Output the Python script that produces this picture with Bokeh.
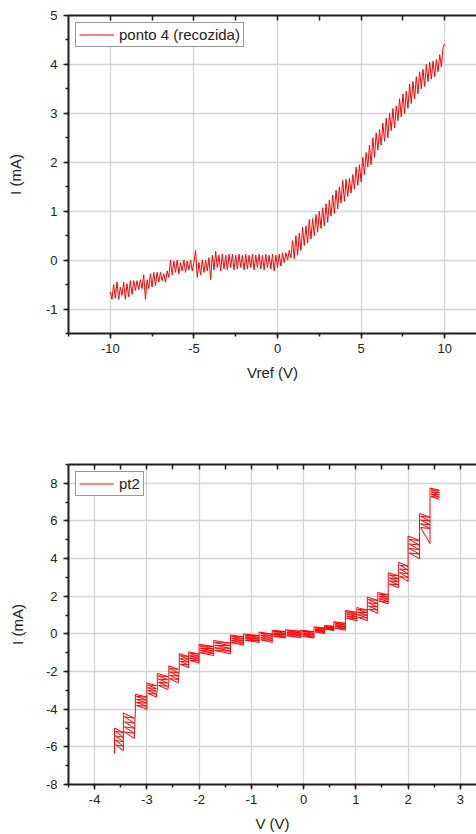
from bokeh.plotting import figure
from bokeh.layouts import column
from bokeh.models import (Range1d, LinearAxis, SingleIntervalTicker, FixedTicker,
                          Legend, LegendItem, Grid, CustomJSTickFormatter)
from bokeh.embed import file_html
from bokeh.resources import INLINE

# ---------------- data: top chart (ponto 4 (recozida)) ----------------
ponto4_v = [
    -10.0, -9.9, -9.8, -9.7, -9.6, -9.5, -9.4, -9.3, -9.2, -9.1,
    -9.0, -8.9, -8.8, -8.7, -8.6, -8.5, -8.4, -8.3, -8.2, -8.1,
    -8.0, -7.9, -7.8, -7.7, -7.6, -7.5, -7.4, -7.3, -7.2, -7.1,
    -7.0, -6.9, -6.8, -6.7, -6.6, -6.5, -6.4, -6.3, -6.2, -6.1,
    -6.0, -5.9, -5.8, -5.7, -5.6, -5.5, -5.4, -5.3, -5.2, -5.1,
    -5.0, -4.9, -4.8, -4.7, -4.6, -4.5, -4.4, -4.3, -4.2, -4.1,
    -4.0, -3.9, -3.8, -3.7, -3.6, -3.5, -3.4, -3.3, -3.2, -3.1,
    -3.0, -2.9, -2.8, -2.7, -2.6, -2.5, -2.4, -2.3, -2.2, -2.1,
    -2.0, -1.9, -1.8, -1.7, -1.6, -1.5, -1.4, -1.3, -1.2, -1.1,
    -1.0, -0.9, -0.8, -0.7, -0.6, -0.5, -0.4, -0.3, -0.2, -0.1,
    0.0, 0.1, 0.2, 0.3, 0.4, 0.5, 0.6, 0.7, 0.8, 0.9,
    1.0, 1.1, 1.2, 1.3, 1.4, 1.5, 1.6, 1.7, 1.8, 1.9,
    2.0, 2.1, 2.2, 2.3, 2.4, 2.5, 2.6, 2.7, 2.8, 2.9,
    3.0, 3.1, 3.2, 3.3, 3.4, 3.5, 3.6, 3.7, 3.8, 3.9,
    4.0, 4.1, 4.2, 4.3, 4.4, 4.5, 4.6, 4.7, 4.8, 4.9,
    5.0, 5.1, 5.2, 5.3, 5.4, 5.5, 5.6, 5.7, 5.8, 5.9,
    6.0, 6.1, 6.2, 6.3, 6.4, 6.5, 6.6, 6.7, 6.8, 6.9,
    7.0, 7.1, 7.2, 7.3, 7.4, 7.5, 7.6, 7.7, 7.8, 7.9,
    8.0, 8.1, 8.2, 8.3, 8.4, 8.5, 8.6, 8.7, 8.8, 8.9,
    9.0, 9.1, 9.2, 9.3, 9.4, 9.5, 9.6, 9.7, 9.8, 9.9,
    10.0,
]
ponto4_i = [
    -0.65, -0.80, -0.50, -0.78, -0.45, -0.80, -0.55, -0.72, -0.45, -0.80,
    -0.48, -0.75, -0.42, -0.70, -0.42, -0.62, -0.42, -0.60, -0.40, -0.58,
    -0.30, -0.80, -0.40, -0.58, -0.28, -0.55, -0.25, -0.52, -0.25, -0.45,
    -0.25, -0.42, -0.28, -0.45, -0.22, -0.35, 0.00, -0.30, -0.02, -0.25,
    0.00, -0.28, -0.05, -0.22, 0.00, -0.25, -0.02, -0.20, 0.00, -0.22,
    -0.05, 0.20, -0.35, -0.05, -0.30, 0.00, -0.25, 0.00, -0.22, 0.05,
    -0.40, 0.10, -0.20, 0.18, -0.15, 0.10, -0.22, 0.12, -0.18, 0.10,
    -0.20, 0.12, -0.15, 0.12, -0.20, 0.10, -0.18, 0.12, -0.15, 0.10,
    -0.20, 0.12, -0.18, 0.10, -0.15, 0.12, -0.20, 0.10, -0.15, 0.12,
    -0.18, 0.10, -0.20, 0.12, -0.15, 0.10, -0.18, 0.12, -0.22, 0.10,
    -0.15, 0.12, -0.12, 0.15, -0.05, 0.15, 0.00, 0.20, 0.05, 0.40,
    0.03, 0.50, 0.10, 0.55, 0.20, 0.67, 0.30, 0.70, 0.35, 0.83,
    0.43, 0.85, 0.50, 0.93, 0.57, 1.00, 0.65, 1.07, 0.70, 1.15,
    0.77, 1.23, 0.90, 1.33, 0.95, 1.43, 1.05, 1.50, 1.17, 1.63,
    1.20, 1.65, 1.30, 1.67, 1.37, 1.75, 1.45, 1.90, 1.53, 1.95,
    1.60, 2.10, 1.75, 2.20, 1.90, 2.35, 1.95, 2.50, 2.10, 2.60,
    2.25, 2.67, 2.35, 2.80, 2.43, 2.90, 2.50, 3.00, 2.65, 3.10,
    2.70, 3.15, 2.85, 3.30, 2.93, 3.40, 3.00, 3.45, 3.10, 3.60,
    3.20, 3.65, 3.30, 3.75, 3.40, 3.85, 3.50, 3.90, 3.55, 4.00,
    3.65, 4.05, 3.70, 4.07, 3.75, 4.10, 3.85, 4.20, 3.95, 4.35,
    4.42,
]

# ---------------- data: bottom chart (pt2) ----------------
pt2_v = [
    -3.62, -3.62, -3.45, -3.60, -3.45, -3.60, -3.45, -3.60, -3.45, -3.60, -3.45,
    -3.45, -3.45, -3.24, -3.43, -3.24, -3.43, -3.24, -3.43, -3.24, -3.43, -3.24,
    -3.22, -3.22, -3.00, -3.20, -3.00, -3.20, -3.00, -3.20, -3.00, -3.20, -3.00,
    -3.00, -3.00, -2.82, -2.98, -2.82, -2.98, -2.82, -2.98, -2.82, -2.98, -2.82,
    -2.80, -2.80, -2.60, -2.78, -2.60, -2.78, -2.60, -2.78, -2.60, -2.78, -2.60,
    -2.58, -2.58, -2.40, -2.56, -2.40, -2.56, -2.40, -2.56, -2.40, -2.56, -2.40,
    -2.38, -2.38, -2.20, -2.36, -2.20, -2.36, -2.20, -2.36, -2.20, -2.36, -2.20,
    -2.20, -2.20, -2.00, -2.18, -2.00, -2.18, -2.00, -2.18, -2.00, -2.18, -2.00,
    -2.00, -2.00, -1.72, -1.98, -1.72, -1.98, -1.72, -1.98, -1.72, -1.98, -1.72,
    -1.72, -1.72, -1.40, -1.70, -1.40, -1.70, -1.40, -1.70, -1.40, -1.70, -1.40,
    -1.40, -1.40, -1.15, -1.38, -1.15, -1.38, -1.15, -1.38, -1.15, -1.38, -1.15,
    -1.15, -1.15, -0.85, -1.12, -0.85, -1.12, -0.85, -1.12, -0.85, -1.12, -0.85,
    -0.85, -0.85, -0.60, -0.82, -0.60, -0.82, -0.60, -0.82, -0.60, -0.82, -0.60,
    -0.60, -0.60, -0.35, -0.58, -0.35, -0.58, -0.35, -0.58, -0.35, -0.58, -0.35,
    -0.35, -0.35, -0.05, -0.32, -0.05, -0.32, -0.05, -0.32, -0.05, -0.32, -0.05,
    -0.05, -0.05, 0.20, -0.02, 0.20, -0.02, 0.20, -0.02, 0.20, -0.02, 0.20,
    0.20, 0.20, 0.40, 0.22, 0.40, 0.22, 0.40, 0.22, 0.40, 0.22, 0.40,
    0.40, 0.40, 0.58, 0.42, 0.58, 0.42, 0.58, 0.42, 0.58, 0.42, 0.58,
    0.58, 0.58, 0.80, 0.60, 0.80, 0.60, 0.80, 0.60, 0.80, 0.60, 0.80,
    0.80, 0.80, 1.02, 0.82, 1.02, 0.82, 1.02, 0.82, 1.02, 0.82, 1.02,
    1.02, 1.02, 1.22, 1.04, 1.22, 1.04, 1.22, 1.04, 1.22, 1.04, 1.22,
    1.22, 1.22, 1.42, 1.24, 1.42, 1.24, 1.42, 1.24, 1.42, 1.24, 1.42,
    1.42, 1.42, 1.62, 1.44, 1.62, 1.44, 1.62, 1.44, 1.62, 1.44, 1.62,
    1.62, 1.62, 1.82, 1.64, 1.82, 1.64, 1.82, 1.64, 1.82, 1.64, 1.82,
    1.82, 1.82, 2.00, 1.84, 2.00, 1.84, 2.00, 1.84, 2.00, 1.84, 2.00,
    2.00, 2.00, 2.22, 2.02, 2.22, 2.02, 2.22, 2.02, 2.22, 2.02, 2.22,
    2.22, 2.22, 2.42, 2.24, 2.42, 2.24, 2.42, 2.24, 2.42, 2.24, 2.42,
    2.42, 2.42, 2.60, 2.44, 2.60, 2.44, 2.60, 2.44, 2.60, 2.44, 2.60,
]
pt2_i = [
    -6.35, -5.00, -5.24, -5.18, -5.48, -5.42, -5.72, -5.66, -5.96, -5.90, -6.20,
    -5.65, -4.20, -4.47, -4.40, -4.74, -4.67, -5.01, -4.94, -5.28, -5.21, -5.55,
    -4.05, -3.20, -3.36, -3.32, -3.52, -3.48, -3.68, -3.64, -3.84, -3.80, -4.00,
    -3.40, -2.60, -2.75, -2.71, -2.90, -2.86, -3.05, -3.01, -3.20, -3.16, -3.35,
    -3.00, -2.10, -2.27, -2.23, -2.44, -2.40, -2.61, -2.57, -2.78, -2.74, -2.95,
    -2.65, -1.70, -1.88, -1.84, -2.06, -2.02, -2.24, -2.20, -2.42, -2.38, -2.60,
    -1.85, -1.05, -1.20, -1.16, -1.35, -1.31, -1.50, -1.46, -1.65, -1.61, -1.80,
    -1.60, -0.95, -1.07, -1.04, -1.19, -1.16, -1.31, -1.28, -1.43, -1.40, -1.55,
    -1.15, -0.55, -0.67, -0.64, -0.79, -0.76, -0.91, -0.88, -1.03, -1.00, -1.15,
    -1.00, -0.35, -0.49, -0.46, -0.63, -0.60, -0.77, -0.74, -0.91, -0.88, -1.05,
    -0.60, -0.05, -0.16, -0.13, -0.27, -0.24, -0.38, -0.35, -0.49, -0.46, -0.60,
    -0.45, 0.00, -0.09, -0.07, -0.18, -0.16, -0.27, -0.25, -0.36, -0.34, -0.45,
    -0.40, 0.10, -0.01, 0.02, -0.12, -0.09, -0.23, -0.20, -0.34, -0.31, -0.45,
    -0.25, 0.20, 0.12, 0.14, 0.03, 0.05, -0.05, -0.03, -0.14, -0.12, -0.22,
    -0.20, 0.22, 0.14, 0.16, 0.05, 0.07, -0.03, -0.01, -0.12, -0.10, -0.20,
    -0.20, 0.20, 0.12, 0.14, 0.03, 0.05, -0.05, -0.03, -0.14, -0.12, -0.22,
    0.00, 0.38, 0.31, 0.33, 0.24, 0.25, 0.16, 0.18, 0.09, 0.11, 0.02,
    0.18, 0.45, 0.40, 0.41, 0.34, 0.36, 0.29, 0.30, 0.23, 0.25, 0.18,
    0.20, 0.65, 0.56, 0.58, 0.47, 0.49, 0.38, 0.40, 0.29, 0.31, 0.20,
    0.70, 1.25, 1.14, 1.17, 1.03, 1.06, 0.92, 0.95, 0.81, 0.84, 0.70,
    0.75, 1.40, 1.26, 1.30, 1.12, 1.16, 0.98, 1.02, 0.84, 0.88, 0.70,
    1.10, 1.95, 1.78, 1.82, 1.61, 1.65, 1.44, 1.48, 1.27, 1.31, 1.10,
    1.60, 2.20, 2.08, 2.11, 1.96, 1.99, 1.84, 1.87, 1.72, 1.75, 1.60,
    2.45, 3.25, 3.09, 3.13, 2.93, 2.97, 2.77, 2.81, 2.61, 2.65, 2.45,
    2.80, 3.80, 3.60, 3.65, 3.40, 3.45, 3.20, 3.25, 3.00, 3.05, 2.80,
    4.00, 5.20, 4.96, 5.02, 4.72, 4.78, 4.48, 4.54, 4.24, 4.30, 4.00,
    5.40, 6.40, 6.20, 6.25, 6.00, 6.05, 5.80, 5.85, 5.60, 5.65, 4.80,
    5.50, 7.75, 7.63, 7.66, 7.51, 7.54, 7.39, 7.42, 7.27, 7.30, 7.15,
]

# tick marks drawn on the top edge of each frame (inward, no labels)
top_ticks_1 = [-10, -7.5, -5, -2.5, 0, 2.5, 5, 7.5, 10]
top_ticks_2 = [-4, -3.5, -3, -2.5, -2, -1.5, -1, -0.5, 0, 0.5, 1, 1.5, 2, 2.5, 3]

FONT = "Liberation Sans"
AXIS_COLOR = "#1e1e1e"
GRID_COLOR = "#d4d4d4"
TEXT_COLOR = "#222222"


def make_panel(xs, ys, label, xlabel, ylabel, x_range, y_range, x_int, y_int,
               top_ticks, height, b_left, b_top, b_bottom, ylabel_standoff):
    p = figure(width=476, height=height, x_range=Range1d(*x_range),
               y_range=Range1d(*y_range), output_backend="svg",
               toolbar_location=None, x_axis_type=None, y_axis_type=None,
               min_border_left=b_left, min_border_right=0,
               min_border_top=b_top, min_border_bottom=b_bottom)
    p.outline_line_color = None
    p.background_fill_color = "white"
    p.border_fill_color = "white"

    xt = SingleIntervalTicker(interval=x_int, num_minor_ticks=2)
    yt = SingleIntervalTicker(interval=y_int, num_minor_ticks=2)
    fmt = CustomJSTickFormatter(code="return String(tick)")

    p.add_layout(Grid(dimension=0, ticker=xt, grid_line_color=GRID_COLOR,
                      grid_line_width=1.3))
    p.add_layout(Grid(dimension=1, ticker=yt, grid_line_color=GRID_COLOR,
                      grid_line_width=1.3))

    def style(ax):
        ax.axis_line_color = AXIS_COLOR
        ax.axis_line_width = 2
        ax.major_tick_line_color = AXIS_COLOR
        ax.minor_tick_line_color = AXIS_COLOR
        ax.major_tick_line_width = 1.5
        ax.minor_tick_line_width = 1.5
        ax.major_label_text_font = FONT
        ax.major_label_text_font_size = "13px"
        ax.major_label_text_color = TEXT_COLOR
        ax.axis_label_text_font = FONT
        ax.axis_label_text_font_size = "15px"
        ax.axis_label_text_font_style = "normal"
        ax.axis_label_text_color = TEXT_COLOR

    xa = LinearAxis(ticker=xt, axis_label=xlabel, formatter=fmt)
    style(xa)
    xa.major_tick_out = 5
    xa.major_tick_in = 0
    xa.minor_tick_out = 3
    xa.minor_tick_in = 0
    xa.major_label_standoff = 5
    xa.axis_label_standoff = 8
    p.add_layout(xa, "below")

    ya = LinearAxis(ticker=yt, axis_label=ylabel, formatter=fmt)
    style(ya)
    ya.major_tick_out = 5
    ya.major_tick_in = 0
    ya.minor_tick_out = 3
    ya.minor_tick_in = 0
    ya.major_label_standoff = 6
    ya.axis_label_standoff = ylabel_standoff
    p.add_layout(ya, "left")

    ta = LinearAxis(ticker=FixedTicker(ticks=[], minor_ticks=top_ticks))
    style(ta)
    ta.major_tick_out = 0
    ta.major_tick_in = 0
    ta.minor_tick_out = 0
    ta.minor_tick_in = 5
    p.add_layout(ta, "above")

    r = p.line(xs, ys, line_color="#ff0000", line_width=1)

    leg = Legend(items=[LegendItem(label=label, renderers=[r])],
                 location="top_left", margin=7, padding=3, spacing=0,
                 glyph_width=35, glyph_height=13, label_height=13,
                 label_standoff=5, label_text_font=FONT,
                 label_text_font_size="15px", label_text_color=TEXT_COLOR,
                 border_line_color="#333333", border_line_width=1,
                 background_fill_color="white", background_fill_alpha=1)
    p.add_layout(leg)
    return p


p1 = make_panel(ponto4_v, ponto4_i, "ponto 4 (recozida)", "Vref (V)", "I (mA)",
                (-12.5, 11.9), (-1.5, 5.0), 5, 1, top_ticks_1,
                height=400, b_left=68, b_top=15, b_bottom=67, ylabel_standoff=19)
p2 = make_panel(pt2_v, pt2_i, "pt2", "V (V)", "I (mA)",
                (-4.5, 3.31), (-8.0, 9.0), 1, 2, top_ticks_2,
                height=434, b_left=67, b_top=64, b_bottom=50, ylabel_standoff=17)

layout = column(p1, p2, spacing=0)
open("out.html", "w").write(file_html(layout, INLINE))
